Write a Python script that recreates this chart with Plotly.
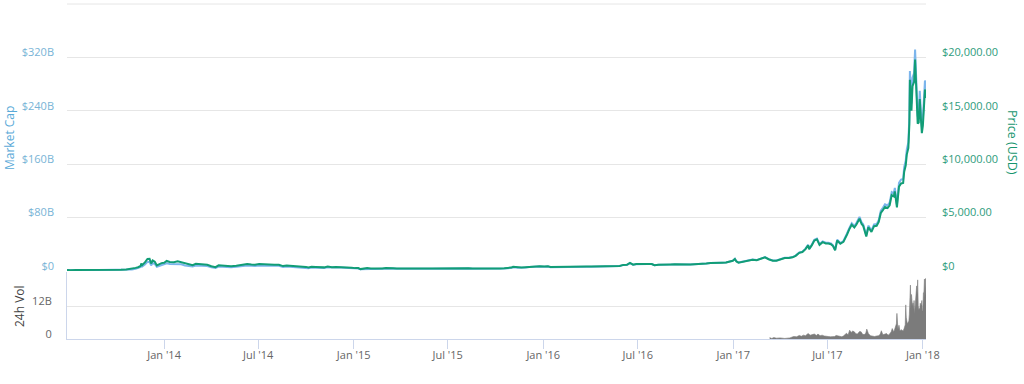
import plotly.graph_objects as go

# ---- data ----
dates = [
    "2013-06-28","2013-07-05","2013-07-15","2013-07-25","2013-08-05","2013-08-15","2013-08-25","2013-09-05",
    "2013-09-15","2013-09-25","2013-10-02","2013-10-10","2013-10-20","2013-10-31","2013-11-07","2013-11-12",
    "2013-11-17","2013-11-18","2013-11-20","2013-11-25","2013-11-30","2013-12-04","2013-12-07","2013-12-10",
    "2013-12-14","2013-12-18","2013-12-22","2013-12-27",
    "2014-01-01","2014-01-06","2014-01-12","2014-01-20","2014-01-27","2014-02-03","2014-02-10","2014-02-18",
    "2014-02-25","2014-03-03","2014-03-10","2014-03-18","2014-03-25","2014-04-02","2014-04-10","2014-04-16",
    "2014-04-24","2014-05-02","2014-05-10","2014-05-20","2014-05-28","2014-06-04","2014-06-10","2014-06-18",
    "2014-06-25","2014-07-03","2014-07-10","2014-07-18","2014-07-25","2014-08-01","2014-08-10","2014-08-18",
    "2014-08-25","2014-09-02","2014-09-10","2014-09-18","2014-09-25","2014-10-01","2014-10-06","2014-10-12",
    "2014-10-20","2014-10-28","2014-11-05","2014-11-12","2014-11-20","2014-11-28","2014-12-05","2014-12-12",
    "2014-12-20","2014-12-28",
    "2015-01-04","2015-01-10","2015-01-14","2015-01-20","2015-01-27","2015-02-03","2015-02-10","2015-02-18",
    "2015-02-25","2015-03-04","2015-03-11","2015-03-18","2015-03-25","2015-04-02","2015-04-10","2015-04-18",
    "2015-04-25","2015-05-03","2015-05-10","2015-05-18","2015-05-25","2015-06-02","2015-06-10","2015-06-18",
    "2015-06-25","2015-07-03","2015-07-10","2015-07-18","2015-07-25","2015-08-02","2015-08-10","2015-08-18",
    "2015-08-25","2015-09-02","2015-09-10","2015-09-18","2015-09-25","2015-10-02","2015-10-10","2015-10-18",
    "2015-10-25","2015-11-01","2015-11-04","2015-11-08","2015-11-12","2015-11-20","2015-11-28","2015-12-05",
    "2015-12-12","2015-12-18","2015-12-25",
    "2016-01-03","2016-01-10","2016-01-15","2016-01-22","2016-01-30","2016-02-08","2016-02-15","2016-02-22",
    "2016-03-01","2016-03-10","2016-03-18","2016-03-25","2016-04-02","2016-04-10","2016-04-18","2016-04-25",
    "2016-05-03","2016-05-10","2016-05-18","2016-05-27","2016-06-03","2016-06-10","2016-06-16","2016-06-22",
    "2016-06-28","2016-07-05","2016-07-12","2016-07-20","2016-07-28","2016-08-02","2016-08-10","2016-08-18",
    "2016-08-26","2016-09-03","2016-09-10","2016-09-18","2016-09-26","2016-10-03","2016-10-10","2016-10-18",
    "2016-10-26","2016-11-02","2016-11-10","2016-11-18","2016-11-26","2016-12-03","2016-12-10","2016-12-18",
    "2016-12-25","2016-12-31",
    "2017-01-04","2017-01-07","2017-01-11","2017-01-16","2017-01-23","2017-01-31","2017-02-07","2017-02-15",
    "2017-02-22","2017-03-02","2017-03-03","2017-03-10","2017-03-18","2017-03-25","2017-04-01","2017-04-10",
    "2017-04-18","2017-04-25","2017-05-01","2017-05-08","2017-05-14","2017-05-20","2017-05-25","2017-05-27",
    "2017-06-01","2017-06-06","2017-06-11","2017-06-16","2017-06-22","2017-06-28","2017-07-03","2017-07-08",
    "2017-07-12","2017-07-16","2017-07-20","2017-07-26","2017-08-01","2017-08-05","2017-08-08","2017-08-12",
    "2017-08-17","2017-08-22","2017-08-26","2017-09-01","2017-09-05","2017-09-08","2017-09-14","2017-09-18",
    "2017-09-24","2017-09-29","2017-10-04","2017-10-08","2017-10-12","2017-10-16","2017-10-20","2017-10-25",
    "2017-10-29","2017-11-02","2017-11-06","2017-11-08","2017-11-12","2017-11-16","2017-11-20","2017-11-24",
    "2017-11-26","2017-11-29","2017-12-01","2017-12-04","2017-12-06","2017-12-07","2017-12-08","2017-12-10",
    "2017-12-12","2017-12-15","2017-12-17","2017-12-19","2017-12-20","2017-12-22","2017-12-24","2017-12-26",
    "2017-12-28","2017-12-30",
    "2018-01-01","2018-01-03","2018-01-05","2018-01-07",
]

price_usd = [
    101, 68, 98, 95, 106, 98, 112, 123,
    128, 134, 118, 126, 151, 204, 292, 355,
    492, 700, 560, 805, 1130, 1150, 700, 990,
    870, 520, 615, 740,
    770, 940, 850, 830, 900, 815, 680, 620,
    540, 670, 630, 615, 585, 450, 360, 530,
    490, 450, 445, 490, 580, 650, 655, 610,
    585, 650, 620, 628, 600, 590, 590, 460,
    505, 480, 475, 425, 410, 385, 320, 390,
    385, 355, 340, 420, 360, 375, 375, 350,
    320, 315,
    270, 275, 178, 210, 270, 225, 220, 245,
    238, 280, 295, 255, 245, 253, 236, 222,
    226, 240, 240, 233, 237, 225, 229, 249,
    243, 256, 285, 273, 289, 281, 264, 225,
    220, 228, 238, 233, 236, 237, 245, 262,
    284, 325, 405, 370, 335, 325, 357, 390,
    435, 460, 455,
    430, 448, 375, 385, 378, 372, 400, 437,
    435, 413, 408, 416, 420, 420, 428, 462,
    450, 452, 453, 470, 570, 577, 760, 590,
    646, 670, 665, 665, 655, 547, 590, 574,
    577, 610, 623, 610, 605, 612, 618, 637,
    678, 740, 713, 750, 735, 770, 775, 790,
    890, 963,
    1130, 895, 785, 830, 925, 965, 1055, 1010,
    1125, 1220, 1280, 1100, 970, 965, 1080, 1210,
    1210, 1280, 1420, 1700, 1775, 2050, 2400, 2050,
    2400, 2860, 2960, 2450, 2700, 2580, 2570, 2510,
    2330, 1930, 2860, 2550, 2730, 3220, 3420, 3875,
    4330, 4080, 4350, 4900, 4400, 4230, 3230, 4100,
    3660, 4200, 4230, 4600, 5430, 5700, 6000, 5900,
    6150, 7100, 6980, 7460, 5950, 7900, 8200, 8250,
    9300, 9900, 10900, 11500, 13800, 17900, 16400, 15000,
    17300, 17700, 19800, 17800, 16500, 13800, 13900, 16100,
    14400, 12900,
    13600, 15200, 17000, 16200,
]

market_cap_b = [
    1.14, 0.77, 1.12, 1.09, 1.22, 1.13, 1.30, 1.43,
    1.50, 1.57, 1.39, 1.49, 1.79, 2.43, 3.49, 4.26,
    5.90, 8.40, 6.72, 9.70, 13.62, 13.88, 8.46, 11.98,
    10.53, 6.30, 7.46, 8.99,
    9.39, 11.47, 10.39, 10.17, 11.05, 10.02, 8.38, 7.66,
    6.69, 8.31, 7.83, 7.66, 7.31, 5.64, 4.52, 6.67,
    6.17, 5.69, 5.64, 6.23, 7.40, 8.32, 8.40, 7.84,
    7.55, 8.40, 8.04, 8.16, 7.82, 7.71, 7.73, 6.04,
    6.65, 6.34, 6.28, 5.64, 5.45, 5.13, 4.27, 5.21,
    5.16, 4.77, 4.58, 5.67, 4.87, 5.08, 5.09, 4.76,
    4.36, 4.31,
    3.70, 3.77, 2.45, 2.89, 3.72, 3.11, 3.04, 3.40,
    3.31, 3.90, 4.12, 3.56, 3.43, 3.55, 3.32, 3.13,
    3.19, 3.39, 3.40, 3.31, 3.37, 3.21, 3.27, 3.56,
    3.48, 3.68, 4.10, 3.94, 4.18, 4.07, 3.83, 3.27,
    3.21, 3.33, 3.48, 3.42, 3.47, 3.49, 3.61, 3.87,
    4.21, 4.82, 6.01, 5.50, 4.98, 4.85, 5.33, 5.84,
    6.53, 6.91, 6.85,
    6.48, 6.76, 5.67, 5.83, 5.74, 5.66, 6.10, 6.67,
    6.65, 6.33, 6.26, 6.40, 6.47, 6.48, 6.62, 7.16,
    6.98, 7.03, 7.06, 7.34, 8.91, 9.04, 11.92, 9.27,
    10.16, 10.55, 10.49, 10.50, 10.35, 8.65, 9.34, 9.09,
    9.15, 9.68, 9.90, 9.70, 9.63, 9.75, 9.86, 10.17,
    10.83, 11.83, 11.42, 12.02, 11.79, 12.36, 12.45, 12.70,
    14.32, 15.50,
    18.20, 14.42, 12.65, 13.39, 14.93, 15.59, 17.06, 16.34,
    18.23, 19.78, 20.75, 17.84, 15.75, 15.68, 17.56, 19.70,
    19.71, 20.86, 23.16, 27.74, 28.99, 33.50, 39.24, 33.52,
    39.26, 46.82, 48.48, 40.16, 44.28, 42.34, 42.20, 41.24,
    38.31, 31.73, 47.05, 41.97, 44.96, 53.07, 56.40, 63.94,
    71.49, 67.40, 71.91, 81.05, 72.82, 70.05, 53.52, 67.98,
    60.72, 69.72, 70.26, 76.45, 90.30, 94.85, 99.90, 98.29,
    102.52, 118.36, 116.43, 124.43, 99.31, 131.93, 136.94, 137.86,
    155.40, 165.53, 182.25, 192.40, 230.87, 299.60, 274.54, 251.10,
    289.78, 296.48, 331.80, 298.33, 276.54, 231.43, 233.10, 270.00,
    241.63, 216.46,
    228.21, 255.21, 285.43, 272.16,
]

vol_dates = [
    "2017-03-12","2017-03-16","2017-03-20","2017-03-25","2017-04-01","2017-04-10","2017-04-20","2017-04-27",
    "2017-05-03","2017-05-08","2017-05-12","2017-05-16","2017-05-20","2017-05-25","2017-05-29","2017-06-02",
    "2017-06-06","2017-06-10","2017-06-13","2017-06-17","2017-06-21","2017-06-25","2017-06-29","2017-07-03",
    "2017-07-07","2017-07-11","2017-07-15","2017-07-18","2017-07-21","2017-07-25","2017-07-29","2017-08-01",
    "2017-08-04","2017-08-07","2017-08-10","2017-08-13","2017-08-16","2017-08-19","2017-08-22","2017-08-25",
    "2017-08-28","2017-09-01","2017-09-04","2017-09-07","2017-09-10","2017-09-13","2017-09-15","2017-09-18",
    "2017-09-22","2017-09-26","2017-09-30","2017-10-04","2017-10-08","2017-10-11","2017-10-13","2017-10-16",
    "2017-10-20","2017-10-23","2017-10-26","2017-10-29","2017-11-01","2017-11-03","2017-11-06","2017-11-09",
    "2017-11-11","2017-11-12","2017-11-14","2017-11-16","2017-11-18","2017-11-20","2017-11-22","2017-11-24",
    "2017-11-26","2017-11-28","2017-11-29","2017-11-30","2017-12-02","2017-12-04","2017-12-05","2017-12-06",
    "2017-12-07","2017-12-08","2017-12-09","2017-12-10","2017-12-11","2017-12-12","2017-12-13","2017-12-14",
    "2017-12-15","2017-12-16","2017-12-17","2017-12-18","2017-12-19","2017-12-20","2017-12-21","2017-12-22",
    "2017-12-23","2017-12-24","2017-12-25","2017-12-26","2017-12-27","2017-12-28","2017-12-29","2017-12-30",
    "2017-12-31","2018-01-01","2018-01-02","2018-01-03","2018-01-04","2018-01-05","2018-01-06","2018-01-07",
]

volume_b = [
    0.5, 0.2, 0.5, 0.3, 0.4, 0.2, 0.4, 0.9,
    0.8, 1.3, 1.0, 1.4, 1.2, 2.0, 1.4, 1.5,
    1.8, 1.3, 1.8, 1.2, 1.4, 1.1, 0.9, 0.9,
    0.8, 0.8, 0.9, 1.3, 1.2, 0.9, 0.8, 1.1,
    1.6, 2.1, 1.5, 3.2, 2.4, 2.9, 2.6, 1.9,
    1.8, 2.7, 2.6, 1.7, 1.6, 2.1, 3.6, 2.0,
    1.2, 1.0, 0.9, 1.1, 1.2, 1.8, 3.0, 1.5,
    1.8, 2.0, 1.4, 1.8, 2.6, 3.8, 2.5, 4.0,
    5.5, 9.3, 3.5, 5.0, 2.8, 3.4, 3.2, 2.9,
    3.9, 5.2, 12.4, 7.9, 5.5, 6.4, 6.5, 9.0,
    14.0, 19.6, 11.0, 16.2, 14.0, 11.8, 13.1, 10.7,
    14.0, 9.0, 12.0, 14.4, 16.9, 19.3, 16.0, 21.5,
    12.1, 10.7, 11.1, 10.7, 13.0, 12.5, 12.3, 14.0,
    10.3, 10.3, 16.8, 16.9, 21.8, 15.0, 22.0, 18.0,
]

x_tick_dates = ["2014-01-01","2014-07-01","2015-01-01","2015-07-01","2016-01-01",
                "2016-07-01","2017-01-01","2017-07-01","2018-01-01"]
x_tick_text = ["Jan '14","Jul '14","Jan '15","Jul '15","Jan '16",
               "Jul '16","Jan '17","Jul '17","Jan '18"]
cap_ticks = [0, 80, 160, 240, 320, 400]
cap_tick_text = ["$0", "$80B", "$160B", "$240B", "$320B", ""]
price_ticks = [0, 5000, 10000, 15000, 20000, 25000]
price_tick_text = ["$0", "$5,000.00", "$10,000.00", "$15,000.00", "$20,000.00", ""]
vol_ticks = [0, 12]
vol_tick_text = ["0", "12B"]

# ---- styling ----
CAP_COLOR = "#7cb5ec"
CAP_LABEL = "#78b4d6"
CAP_TITLE = "#5aaad8"
PRICE_COLOR = "#119d76"
PRICE_LABEL = "#2e9c7c"
PRICE_TITLE = "#17966f"
VOL_COLOR = "#7b7b7b"
GRID = "#e6e6e6"
AXIS_LINE = "#ccd6eb"
FONT = "Open Sans"

fig = go.Figure()
fig.add_trace(go.Scatter(x=dates, y=market_cap_b, xaxis="x", yaxis="y", mode="lines",
                         line=dict(color=CAP_COLOR, width=2), name="Market Cap"))
fig.add_trace(go.Scatter(x=dates, y=price_usd, xaxis="x", yaxis="y2", mode="lines",
                         line=dict(color=PRICE_COLOR, width=2), name="Price (USD)"))
fig.add_trace(go.Scatter(x=vol_dates, y=volume_b, xaxis="x", yaxis="y3", mode="lines",
                         fill="tozeroy", fillcolor=VOL_COLOR,
                         line=dict(color=VOL_COLOR, width=0.6), name="24h Vol"))

W, H = 1024, 384
L, R, T, B = 67, 98, 3, 45
ph = H - T - B
main_bottom = (H - B - 271) / ph
vol_top = (H - B - 272) / ph

fig.update_layout(
    width=W, height=H,
    margin=dict(l=L, r=R, t=T, b=B),
    paper_bgcolor="white", plot_bgcolor="white",
    showlegend=False,
    font=dict(family=FONT, size=11, color="#666666"),
    xaxis=dict(type="date", range=["2013-06-28", "2018-01-07"], anchor="y3",
               tickvals=x_tick_dates, ticktext=x_tick_text,
               ticks="outside", ticklen=9, tickcolor=AXIS_LINE, tickwidth=1,
               showline=True, linecolor=AXIS_LINE, linewidth=1,
               showgrid=False, zeroline=False, ticklabelstandoff=-3,
               tickfont=dict(family=FONT, size=11, color="#666666")),
    yaxis=dict(domain=[main_bottom, 1], range=[0, 401.5], anchor="x",
               tickvals=cap_ticks, ticktext=cap_tick_text,
               showgrid=True, gridcolor=GRID, gridwidth=1, zeroline=False,
               showline=False, ticks="", ticklabelstandoff=12, ticklabelshift=-5,
               tickfont=dict(family=FONT, size=11, color=CAP_LABEL)),
    yaxis2=dict(overlaying="y", side="right", range=[0, 25093.75], anchor="x",
                tickvals=price_ticks, ticktext=price_tick_text,
                showgrid=False, zeroline=False, showline=False, ticks="",
                ticklabelstandoff=15, ticklabelshift=-5,
                tickfont=dict(family=FONT, size=11, color=PRICE_LABEL)),
    yaxis3=dict(domain=[0, vol_top], range=[0, 24.36], anchor="x",
                tickvals=vol_ticks, ticktext=vol_tick_text,
                showgrid=True, gridcolor=GRID, gridwidth=1, zeroline=False,
                showline=True, linecolor=AXIS_LINE, linewidth=1, ticks="",
                ticklabelstandoff=12, ticklabelshift=-5,
                tickfont=dict(family=FONT, size=11, color="#666666")),
)

# top grid line of the main panel (the unlabeled top tick)
fig.add_shape(type="line", xref="paper", yref="y", x0=0, x1=1,
              y0=cap_ticks[-1], y1=cap_ticks[-1], layer="below",
              line=dict(color=GRID, width=1))

def px_to_paper_x(px):
    return (px - L) / (W - L - R)

def px_to_paper_y(py):
    return (H - B - py) / ph

fig.add_annotation(text="Market Cap", xref="paper", yref="paper",
                   x=px_to_paper_x(9), y=px_to_paper_y(138), textangle=-90,
                   showarrow=False, xanchor="center", yanchor="middle",
                   font=dict(family=FONT, size=12, color=CAP_TITLE))
fig.add_annotation(text="Price (USD)", xref="paper", yref="paper",
                   x=px_to_paper_x(1013), y=px_to_paper_y(143), textangle=90,
                   showarrow=False, xanchor="center", yanchor="middle",
                   font=dict(family=FONT, size=12.5, color=PRICE_TITLE))
fig.add_annotation(text="24h Vol", xref="paper", yref="paper",
                   x=px_to_paper_x(19), y=px_to_paper_y(306), textangle=-90,
                   showarrow=False, xanchor="center", yanchor="middle",
                   font=dict(family=FONT, size=12, color="#444444"))

fig.write_html("out.html", config={"displayModeBar": False},
               post_script="document.body.style.margin='0';document.body.style.overflow='hidden';")
